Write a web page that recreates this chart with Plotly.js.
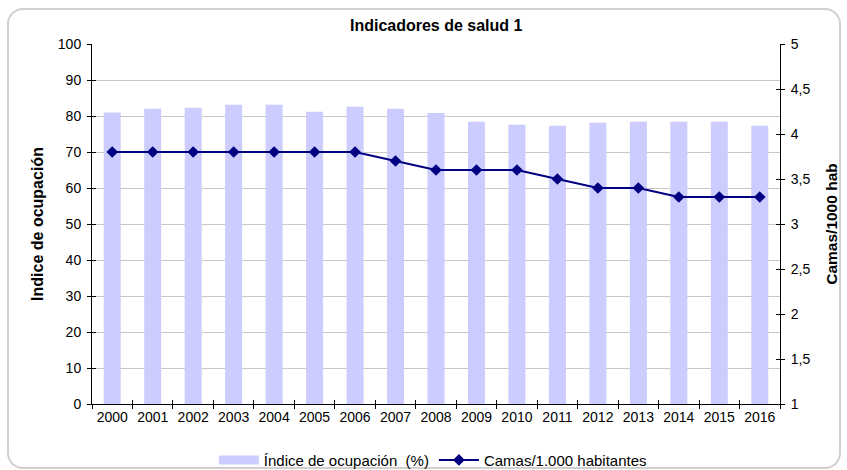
<!DOCTYPE html>
<html>
<head>
<meta charset="utf-8">
<script src="https://cdn.plot.ly/plotly-3.0.1.min.js"></script>
<style>
html,body{margin:0;padding:0;background:#fff;}
#wrap{position:relative;width:847px;height:470px;}
#chart{position:absolute;left:0;top:0;width:847px;height:470px;}
#frame{position:absolute;left:7px;top:8px;width:834px;height:461px;border:2px solid #d0d0d0;border-radius:16px;box-sizing:border-box;}
</style>
</head>
<body>
<div id="wrap"><div id="frame"></div><div id="chart"></div></div>
<script>
const years = ['2000','2001','2002','2003','2004','2005','2006','2007','2008','2009','2010','2011','2012','2013','2014','2015','2016'];
const ocupacion = [81, 82, 82.3, 83.1, 83.1, 81.2, 82.6, 82, 80.8, 78.4, 77.6, 77.3, 78.1, 78.4, 78.4, 78.4, 77.3];
const camas = [3.8, 3.8, 3.8, 3.8, 3.8, 3.8, 3.8, 3.7, 3.6, 3.6, 3.6, 3.5, 3.4, 3.4, 3.3, 3.3, 3.3];
const leftTicks = [0,10,20,30,40,50,60,70,80,90,100];
const rightTicks = [1,1.5,2,2.5,3,3.5,4,4.5,5];
const seriesNames = ['Índice de ocupación  (%)', 'Camas/1.000 habitantes'];

const font = 'Liberation Sans, Arial, sans-serif';
const barColor = '#ccccff';
const traces = [
  {type:'bar', x:years, y:ocupacion, name:seriesNames[0], marker:{color:barColor}, xaxis:'x', yaxis:'y', showlegend:false},
  // legend-only entry giving the wide bar swatch
  {type:'scatter', mode:'lines', x:[null], y:[null], name:seriesNames[0], line:{color:barColor, width:9}, xaxis:'x', yaxis:'y', hoverinfo:'skip'},
  {type:'scatter', mode:'lines+markers', x:years, y:camas, name:seriesNames[1], xaxis:'x', yaxis:'y2',
   line:{color:'#000080', width:2}, marker:{symbol:'diamond', size:9, color:'#000080'}},
  {type:'scatter', x:[], y:[], xaxis:'x2', yaxis:'y3', showlegend:false, hoverinfo:'skip'},
  {type:'scatter', x:[], y:[], xaxis:'x2', yaxis:'y4', showlegend:false, hoverinfo:'skip'}
];
const axBase = {showline:true, linecolor:'#000', linewidth:1, tickcolor:'#000', ticklen:4, tickwidth:1, zeroline:false,
  tickfont:{family:font, size:14, color:'#000'}};
const layout = {
  width:847, height:470,
  margin:{l:92, r:67, t:44, b:66, autoexpand:false},
  paper_bgcolor:'rgba(0,0,0,0)', plot_bgcolor:'#fff',
  separators:',.',
  font:{family:font, size:14, color:'#000'},
  title:{text:'<b>Indicadores de salud 1</b>', font:{family:font, size:16, color:'#000'}, x:0.515, xanchor:'center', y:0.947, yanchor:'middle'},
  bargap:0.58,
  showlegend:true,
  legend:{orientation:'h', x:0.511, xanchor:'center', xref:'container', y:0.021, yref:'container', yanchor:'middle', font:{family:font, size:15, color:'#000'}, traceorder:'normal', itemwidth:40},
  xaxis:Object.assign({}, axBase, {type:'category', categoryorder:'array', categoryarray:years, range:[-0.5,16.5], tickson:'boundaries', ticks:'outside', showgrid:false}),
  yaxis:Object.assign({}, axBase, {range:[0,100], tickvals:leftTicks, ticks:'outside', showgrid:true, gridcolor:'#c8c8c8', gridwidth:1, ticklabelstandoff:3,
    title:{text:'<b>Indice de ocupación</b>', font:{family:font, size:16, color:'#000'}, standoff:10}}),
  yaxis2:Object.assign({}, axBase, {overlaying:'y', side:'right', range:[1,5], tickvals:rightTicks, ticks:'outside', showgrid:false, ticklabelstandoff:3,
    title:{text:'<b>Camas/1000 hab</b>', font:{family:font, size:15.5, color:'#000'}, standoff:16}}),
  xaxis2:Object.assign({}, axBase, {overlaying:'x', type:'category', categoryorder:'array', categoryarray:years, range:[-0.5,16.5], tickson:'boundaries', ticks:'inside', showticklabels:false, showgrid:false, showline:false}),
  yaxis3:Object.assign({}, axBase, {overlaying:'y', range:[0,100], tickvals:leftTicks, ticks:'inside', showticklabels:false, showgrid:false, showline:false}),
  yaxis4:Object.assign({}, axBase, {overlaying:'y', side:'right', range:[1,5], tickvals:rightTicks, ticks:'inside', showticklabels:false, showgrid:false, showline:false})
};
Plotly.newPlot('chart', traces, layout, {staticPlot:true, displayModeBar:false});
</script>
</body>
</html>
